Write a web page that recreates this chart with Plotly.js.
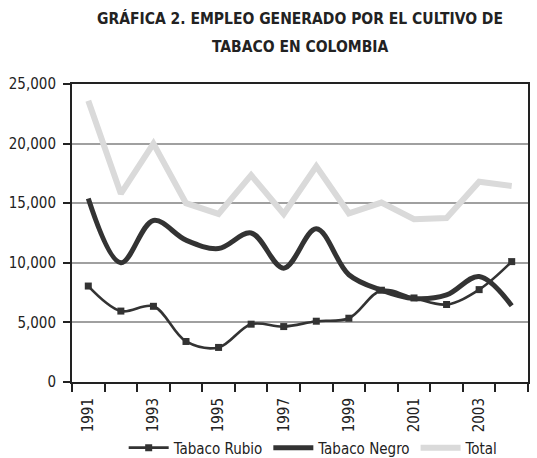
<!DOCTYPE html>
<html><head><meta charset="utf-8">
<script src="https://cdn.plot.ly/plotly-3.0.1.min.js"></script>
<style>html,body{margin:0;padding:0;background:#fff;}#chart{width:537px;height:458px;}</style>
</head><body><div id="chart"></div>
<script>
const years = [1991,1992,1993,1994,1995,1996,1997,1998,1999,2000,2001,2002,2003,2004];
const tabacoRubio = [8050,5950,6350,3400,2900,4850,4650,5100,5350,7700,7050,6500,7750,10100];
const tabacoNegro = [15400,10000,13550,11900,11200,12500,9550,12850,9000,7700,7000,7300,8850,6400];
const total = [23600,15800,20000,15000,14100,17350,14100,18100,14150,15050,13650,13750,16800,16450];
const tickYears = [1991,1993,1995,1997,1999,2001,2003];
const titleLine1 = "GRÁFICA 2. EMPLEO GENERADO POR EL CULTIVO DE";
const titleLine2 = "TABACO EN COLOMBIA";

const FONT = "'Liberation Sans Narrow','Arial Narrow','DejaVu Sans Condensed',sans-serif";

const traces = [
  {x: years, y: tabacoRubio, name: "Tabaco Rubio", type: "scatter", mode: "lines+markers",
   line: {color: "#333333", width: 2.6, shape: "spline", smoothing: 1},
   marker: {symbol: "square", size: 7, color: "#333333"}},
  {x: years, y: tabacoNegro, name: "Tabaco Negro", type: "scatter", mode: "lines",
   line: {color: "#333333", width: 5, shape: "spline", smoothing: 1}},
  {x: years, y: total, name: "Total", type: "scatter", mode: "lines",
   line: {color: "#dadada", width: 6}}
];

const layout = {
  width: 537, height: 458,
  margin: {l: 72, r: 9, t: 84, b: 76},
  paper_bgcolor: "#fff", plot_bgcolor: "#fff",
  font: {family: FONT, size: 15, color: "#222"},
  showlegend: true,
  legend: {orientation: "h", xref: "paper", x: 0.53, xanchor: "center",
           yref: "container", y: 0.022, yanchor: "middle", bgcolor: "rgba(0,0,0,0)",
           font: {family: FONT, size: 15, color: "#222"}, itemwidth: 40, tracegroupgap: 0},
  xaxis: {
    range: [1990.5, 2004.5], tickmode: "array", tickvals: tickYears, ticktext: tickYears.map(String),
    tickangle: -90, ticks: "", showgrid: false, zeroline: false, ticklabelstandoff: 8,
    showline: true, linecolor: "#222", linewidth: 2, mirror: true,
    minor: {tick0: 1990.5, dtick: 1, ticks: "outside", ticklen: 8, tickcolor: "#222", tickwidth: 2, showgrid: false},
    tickfont: {family: FONT, size: 15, color: "#222"}
  },
  yaxis: {
    range: [0, 25000], dtick: 5000, tickformat: ",d", ticks: "outside", ticklen: 7,
    tickcolor: "#222", tickwidth: 2, ticklabelstandoff: 4,
    showgrid: true, gridcolor: "#a0a0a0", gridwidth: 2, zeroline: false,
    showline: true, linecolor: "#222", linewidth: 2, mirror: true,
    tickfont: {family: FONT, size: 15, color: "#222"}
  },
  annotations: [
    {text: "<b>" + titleLine1 + "</b>", xref: "paper", yref: "paper", x: 0.5, y: 1, yshift: 66,
     xanchor: "center", yanchor: "middle", showarrow: false, font: {family: FONT, size: 15.5, color: "#222"}},
    {text: "<b>" + titleLine2 + "</b>", xref: "paper", yref: "paper", x: 0.5, y: 1, yshift: 37,
     xanchor: "center", yanchor: "middle", showarrow: false, font: {family: FONT, size: 15.5, color: "#222"}}
  ]
};

Plotly.newPlot("chart", traces, layout, {displayModeBar: false, staticPlot: true});
</script></body></html>
